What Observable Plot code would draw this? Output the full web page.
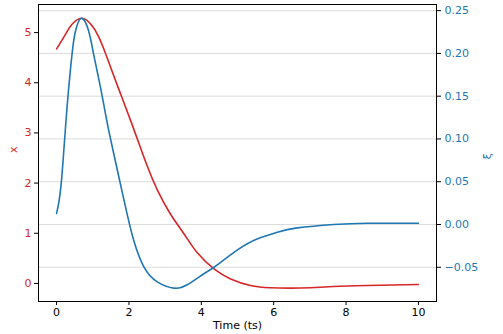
<!DOCTYPE html>
<html>
<head>
<meta charset="utf-8">
<script src="https://cdn.jsdelivr.net/npm/d3@7"></script>
<script src="https://cdn.jsdelivr.net/npm/@observablehq/plot@0.6"></script>
<style>
  html, body { margin: 0; padding: 0; background: white; }
</style>
</head>
<body>
<div id="chart"></div>
<script>
// x(t) series (left axis)
const redT = [0, 0.24, 0.42, 0.70, 0.975, 1.16, 1.345, 1.528, 1.804, 2.08, 2.312, 2.505, 2.78, 3.15, 3.52, 3.89, 4.35, 4.81, 5.36, 5.91, 6.46, 7.02, 7.66, 8.58, 10];
const redX = [4.675, 4.96, 5.16, 5.285, 5.14, 4.92, 4.60, 4.24, 3.71, 3.18, 2.72, 2.34, 1.87, 1.38, 0.99, 0.61, 0.29, 0.09, -0.04, -0.086, -0.094, -0.085, -0.06, -0.04, -0.02];
// ξ(t) series (right axis)
const blueT = [0, 0.07, 0.13, 0.19, 0.285, 0.378, 0.47, 0.56, 0.70, 0.884, 1.022, 1.16, 1.298, 1.436, 1.677, 1.815, 1.953, 2.135, 2.412, 2.782, 3.24, 3.61, 4.07, 4.35, 4.99, 5.54, 6.10, 6.65, 7.66, 8.58, 10];
const blueXi = [0.013, 0.028, 0.049, 0.081, 0.135, 0.179, 0.214, 0.232, 0.241, 0.2266, 0.1994, 0.1715, 0.1415, 0.111, 0.064, 0.0375, 0.0115, -0.019, -0.0495, -0.067, -0.0744, -0.0705, -0.0576, -0.050, -0.030, -0.017, -0.009, -0.004, 0.000, 0.0015, 0.0015];

const xTicks = [0, 2, 4, 6, 8, 10];
const leftTicks = [0, 1, 2, 3, 4, 5];
const rightTicks = [-0.05, 0.00, 0.05, 0.10, 0.15, 0.20, 0.25];

const RED = "#d62728";
const BLUE = "#1f77b4";

// map ξ onto the left (x) scale
const a = 1.175, b = 17.05;
const toLeft = v => a + b * v;
const fromLeft = v => (v - a) / b;
const fmt2 = d3.format(".2f");

const redData = redT.map((t, i) => ({t, v: redX[i]}));
const blueData = blueT.map((t, i) => ({t, v: blueXi[i]}));

const chart = Plot.plot({
  width: 503,
  height: 334,
  marginLeft: 38,
  marginRight: 67,
  marginTop: 4,
  marginBottom: 33,
  x: {domain: [-0.5, 10.5]},
  y: {domain: [-0.36, 5.56]},
  style: {fontFamily: "DejaVu Sans", fontSize: "11px", background: "white", color: "black"},
  marks: [
    Plot.gridY(rightTicks.map(toLeft), {stroke: "#b0b0b0", strokeOpacity: 0.45, strokeWidth: 1}),
    Plot.line(redData, {x: "t", y: "v", stroke: RED, strokeWidth: 1.6, curve: "natural"}),
    Plot.line(blueData, {x: "t", y: d => toLeft(d.v), stroke: BLUE, strokeWidth: 1.6, curve: "natural"}),
    Plot.frame({stroke: "black", strokeOpacity: 1, strokeWidth: 1}),
    Plot.axisX({ticks: xTicks, tickSize: 4, tickPadding: 3, label: null, tickFormat: d => String(d)}),
    Plot.axisY({ticks: leftTicks, tickSize: 4, tickPadding: 3, stroke: "black", fill: RED, label: null, tickFormat: d => String(d)}),
    Plot.axisY(rightTicks.map(toLeft), {anchor: "right", tickSize: 4, tickPadding: 4, stroke: "black", fill: BLUE, label: null, tickFormat: d => fmt2(fromLeft(d))}),
    Plot.text(["Time (ts)"], {frameAnchor: "bottom", dy: 27, text: d => d, fill: "black"}),
    Plot.text(["x"], {frameAnchor: "left", dx: -25, rotate: -90, text: d => d, fill: RED}),
    Plot.text(["ξ"], {frameAnchor: "right", dx: 51, rotate: -90, text: d => d, fill: BLUE})
  ]
});
document.getElementById("chart").appendChild(chart);
</script>
</body>
</html>
